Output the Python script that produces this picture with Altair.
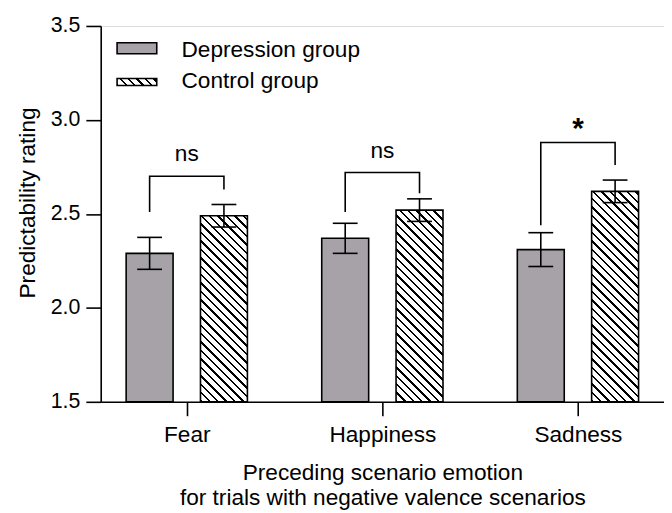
import altair as alt
import pandas as pd

# ---- data ----
categories = ["Fear", "Happiness", "Sadness"]
dep_mean = [2.29, 2.37, 2.31]
dep_err = [0.085, 0.08, 0.09]
ctrl_mean = [2.49, 2.52, 2.62]
ctrl_err = [0.06, 0.06, 0.06]
bracket_top = [2.70, 2.72, 2.88]
bracket_left_low = [2.51, 2.51, 2.44]
bracket_right_low = [2.63, 2.61, 2.76]
sig_labels = ["ns", "ns", "*"]
sig_y = [2.78, 2.80, 2.905]
groups = ["Depression group", "Control group"]

# ---- layout / style ----
W, H = 568, 379
XDOM = [-0.44, 2.44]
YDOM = [1.5, 3.5]
OFF = 0.19       # group offset from category centre
HW = 0.12        # half bar width
CAP = 0.0634     # half cap width
FONT = "Liberation Sans, Arial, sans-serif"
GRAY = "#a6a2a7"
SW = 1.6
FS = 22.8

px_x = W / (XDOM[1] - XDOM[0])
px_y = H / (YDOM[1] - YDOM[0])


def hatch(w, h, period=8.5, frac=0.28):
    n = (w + h) / period
    stops = []
    i = 0
    while i < n:
        a = i / n
        b = min((i + frac) / n, 1.0)
        stops += [(a, "white"), (a, "black"), (b, "black"), (b, "white")]
        i += 1
    x2 = w * (w + h) / (w * w + h * h)
    y2 = 1 - h * (w + h) / (w * w + h * h)
    return {
        "gradient": "linear",
        "x1": 0, "y1": 1, "x2": x2, "y2": y2,
        "stops": [{"offset": round(o, 5), "color": c} for o, c in stops],
    }


rows = []
for i, c in enumerate(categories):
    for g, m, e, off in ((groups[0], dep_mean[i], dep_err[i], -OFF),
                         (groups[1], ctrl_mean[i], ctrl_err[i], OFF)):
        xc = i + off
        rows.append(dict(cat=c, idx=i, group=g, mean=m, lo=m - e, hi=m + e,
                         xc=xc, xl=xc - HW, xr=xc + HW,
                         cl=xc - CAP, cr=xc + CAP))
df = pd.DataFrame(rows)

xs = alt.Scale(domain=XDOM, nice=False, zero=False)
ys = alt.Scale(domain=YDOM, nice=False, zero=False)

label_expr = "[" + ",".join("'%s'" % c for c in categories) + "][datum.value]"
xaxis = alt.Axis(values=[0, 1, 2], labelExpr=label_expr, grid=False,
                 tickSize=14, tickWidth=SW, tickColor="black",
                 domainColor="black", domainWidth=SW,
                 labelFont=FONT, labelFontSize=FS, labelColor="black",
                 labelBaseline="alphabetic", labelPadding=26,
                 title=["Preceding scenario emotion",
                        "for trials with negative valence scenarios"],
                 titleFont=FONT, titleFontSize=FS, titleFontWeight="normal",
                 titleColor="black", titleBaseline="alphabetic",
                 titleY=78, titleLineHeight=25.5)
yaxis = alt.Axis(values=[1.5, 2.0, 2.5, 3.0, 3.5], format=".1f", grid=False,
                 tickSize=15, tickWidth=SW, tickColor="black",
                 domainColor="black", domainWidth=SW,
                 labelFont=FONT, labelFontSize=21.5, labelColor="black",
                 labelPadding=6,
                 title="Predictability rating", titleFont=FONT,
                 titleFontSize=FS, titleFontWeight="normal",
                 titleColor="black", titleBaseline="alphabetic",
                 titleX=-67, titleY=178)

base = alt.Chart(df)

dep_bars = base.transform_filter(alt.datum.group == groups[0]).mark_rect(
    fill=GRAY, stroke="black", strokeWidth=SW).encode(
    x=alt.X("xl:Q", scale=xs, axis=xaxis), x2="xr:Q",
    y=alt.Y("mean:Q", scale=ys, axis=yaxis), y2=alt.datum(YDOM[0]))

ctrl_layers = []
for i, c in enumerate(categories):
    w = 2 * HW * px_x
    h = (ctrl_mean[i] - YDOM[0]) * px_y
    ctrl_layers.append(
        base.transform_filter((alt.datum.group == groups[1]) & (alt.datum.cat == c))
        .mark_rect(fill=hatch(w, h), stroke="black", strokeWidth=SW)
        .encode(x=alt.X("xl:Q", scale=xs), x2="xr:Q",
                y=alt.Y("mean:Q", scale=ys), y2=alt.datum(YDOM[0])))

whisk = base.mark_rule(color="black", strokeWidth=SW).encode(
    x="xc:Q", y="lo:Q", y2="hi:Q")
cap_hi = base.mark_rule(color="black", strokeWidth=SW).encode(
    x="cl:Q", x2="cr:Q", y="hi:Q")
cap_lo = base.mark_rule(color="black", strokeWidth=SW).encode(
    x="cl:Q", x2="cr:Q", y="lo:Q")

brows = []
for i, c in enumerate(categories):
    pts = [(i - OFF, bracket_left_low[i]), (i - OFF, bracket_top[i]),
           (i + OFF, bracket_top[i]), (i + OFF, bracket_right_low[i])]
    for k, (bx, by) in enumerate(pts):
        brows.append(dict(cat=c, order=k, bx=bx, by=by))
bdf = pd.DataFrame(brows)
brackets = alt.Chart(bdf).mark_line(color="black", strokeWidth=SW,
                                    strokeJoin="miter", strokeCap="butt").encode(
    x="bx:Q", y="by:Q", detail="cat:N", order="order:Q")

sdf = pd.DataFrame(dict(idx=list(range(len(categories))), lab=sig_labels, sy=sig_y))
ns_text = alt.Chart(sdf).transform_filter(alt.datum.lab == "ns").mark_text(
    font=FONT, fontSize=FS, color="black", baseline="alphabetic", align="center").encode(
    x="idx:Q", y="sy:Q", text="lab:N")
star_text = alt.Chart(sdf).transform_filter(alt.datum.lab == "*").mark_text(
    font=FONT, fontSize=30, fontWeight="bold", color="black",
    baseline="alphabetic", align="center").encode(
    x="idx:Q", y="sy:Q", text="lab:N")

one = alt.Chart(pd.DataFrame({"k": [0]}))
leg_dep = one.mark_rect(fill=GRAY, stroke="black", strokeWidth=SW).encode(
    x=alt.value(16.5), x2=alt.value(56.5), y=alt.value(17), y2=alt.value(28))
leg_ctrl = one.mark_rect(fill=hatch(40, 7), stroke="black", strokeWidth=SW).encode(
    x=alt.value(16.5), x2=alt.value(56.5), y=alt.value(53), y2=alt.value(60))
leg_t1 = one.mark_text(font=FONT, fontSize=FS, color="black", align="left",
                       baseline="alphabetic", text=groups[0]).encode(
    x=alt.value(81.5), y=alt.value(31))
leg_t2 = one.mark_text(font=FONT, fontSize=FS, color="black", align="left",
                       baseline="alphabetic", text=groups[1]).encode(
    x=alt.value(81.5), y=alt.value(62.5))

chart = alt.layer(dep_bars, *ctrl_layers, whisk, cap_hi, cap_lo, brackets,
                  ns_text, star_text, leg_dep, leg_ctrl, leg_t1, leg_t2).properties(
    width=W, height=H,
    autosize=alt.AutoSizeParams(type="none"),
    padding={"left": 93.5, "top": 16, "right": 0, "bottom": 110},
).configure_view(stroke=None).configure(background="white")

chart.save("out.html", embed_options={"renderer": "svg", "actions": False})
